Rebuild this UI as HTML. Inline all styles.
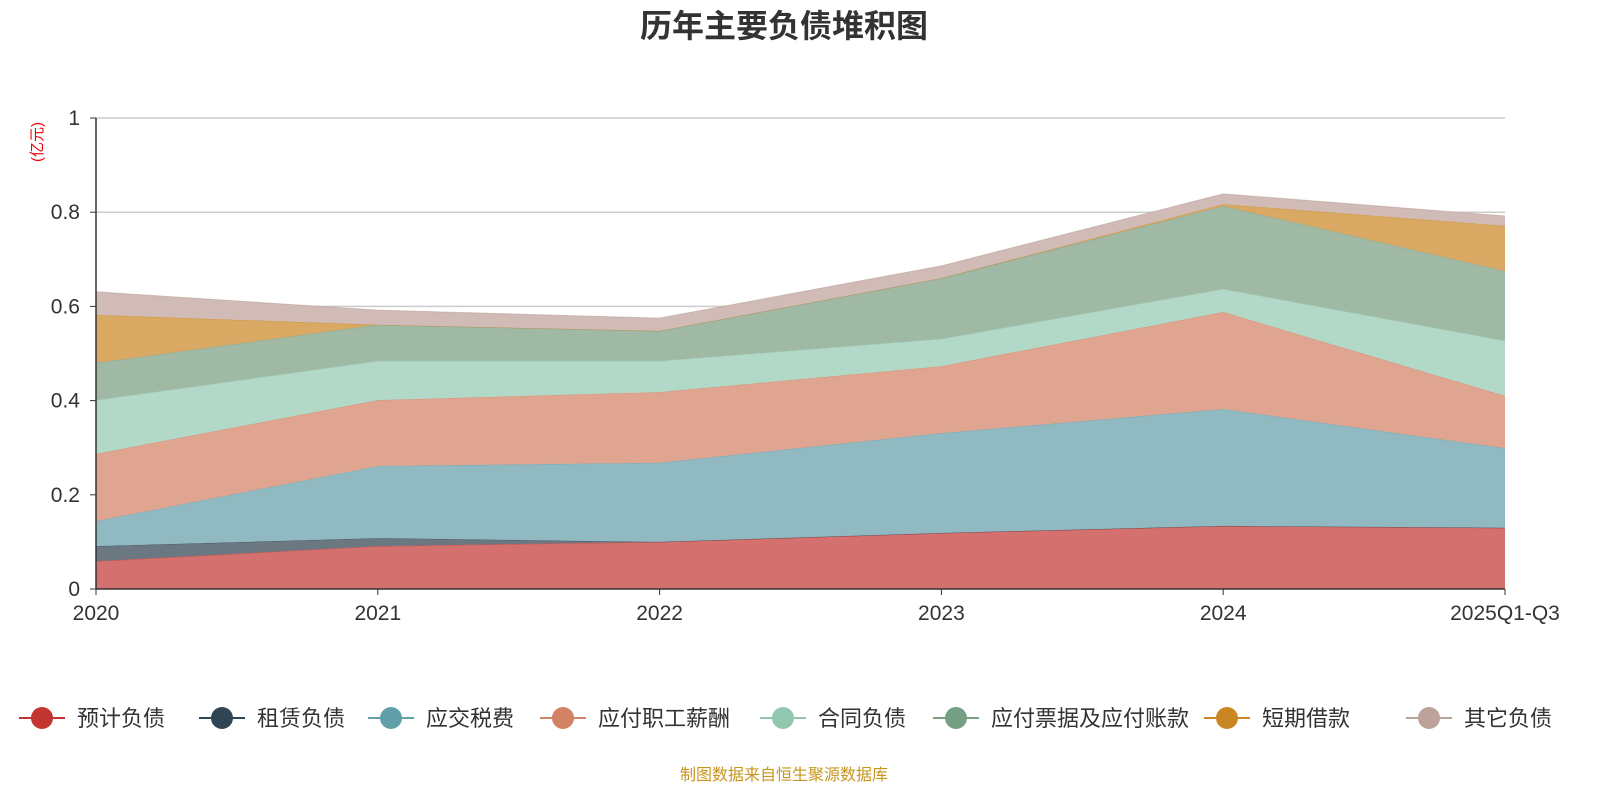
<!DOCTYPE html>
<html><head><meta charset="utf-8"><style>
body{margin:0;background:#fff;}
svg text{font-family:"Liberation Sans","Noto Sans CJK SC",sans-serif;}
</style></head><body>
<svg id="chart" width="1600" height="800" xmlns="http://www.w3.org/2000/svg">
<text x="784" y="37" text-anchor="middle" font-size="32" font-weight="bold" fill="#333">历年主要负债堆积图</text>
<text transform="translate(42,142) rotate(-90)" text-anchor="middle" font-size="15" fill="#e00">(亿元)</text>
<g id="grid"></g><g id="areas"></g><g id="axes"></g><g id="legend"></g>
<text x="784" y="780" text-anchor="middle" font-size="16" fill="#c8961e">制图数据来自恒生聚源数据库</text>
</svg>
<script>
const categories=["2020","2021","2022","2023","2024","2025Q1-Q3"];
const seriesNames=["预计负债","租赁负债","应交税费","应付职工薪酬","合同负债","应付票据及应付账款","短期借款","其它负债"];
const s0=[0.059,0.091,0.100,0.119,0.134,0.130];
const s1=[0.032,0.017,0,0,0,0];
const s2=[0.053,0.153,0.168,0.212,0.248,0.169];
const s3=[0.143,0.140,0.150,0.142,0.206,0.111];
const s4=[0.114,0.083,0.066,0.058,0.049,0.117];
const s5=[0.079,0.077,0.064,0.129,0.176,0.148];
const s6=[0.102,0,0,0,0.004,0.096];
const s7=[0.049,0.031,0.027,0.026,0.022,0.021];
const yTicks=[0,0.2,0.4,0.6,0.8,1];
const series=[s0,s1,s2,s3,s4,s5,s6,s7];
const fills=["#d4706d","#6b7882","#91b9c1","#e0a590","#b2d8c8","#9fb9a5","#d9a862","#d0bbb6"];
const lines=["#c23531","#2f4554","#61a0a8","#d48265","#91c7ae","#749f83","#ca8622","#bda29a"];
const NS="http://www.w3.org/2000/svg";
const X0=96,X1=1505,Y0=589,Y1=118;
const xs=i=>X0+(X1-X0)*i/(categories.length-1);
const ys=v=>Y0-(Y0-Y1)*v;
function mk(t,a,p){const e=document.createElementNS(NS,t);for(const k in a)e.setAttribute(k,a[k]);p.appendChild(e);return e;}
const grid=document.getElementById('grid'),axes=document.getElementById('axes'),areas=document.getElementById('areas'),legend=document.getElementById('legend');
yTicks.forEach(t=>{
 if(t>0){const l=mk('line',{x1:X0,x2:X1,y1:ys(t),y2:ys(t),stroke:'#ccc','stroke-width':1.5},grid);
 
 }
 mk('line',{x1:X0-6,x2:X0,y1:ys(t),y2:ys(t),stroke:'#333'},axes);
 const tx=mk('text',{x:X0-16,y:ys(t)+7,'text-anchor':'end','font-size':21,fill:'#333'},axes);tx.textContent=t;
 
 
});
let base=categories.map(()=>0);
series.forEach((s,k)=>{
 const top=base.map((b,i)=>b+s[i]);
 let d='M'+top.map((v,i)=>xs(i)+','+ys(v)).join('L');
 for(let i=base.length-1;i>=0;i--)d+='L'+xs(i)+','+ys(base[i]);
 const p=mk('path',{d:d+'Z',fill:fills[k]},areas);
 
 
 mk('polyline',{points:top.map((v,i)=>xs(i)+','+ys(v)).join(' '),fill:'none',stroke:lines[k],'stroke-width':1,opacity:0.6},areas);
 base=top;
});
mk('line',{x1:X0,x2:X0,y1:Y1,y2:Y0,stroke:'#333','stroke-width':1.5},axes);
mk('line',{x1:X0,x2:X1,y1:Y0,y2:Y0,stroke:'#333','stroke-width':1.5},axes);
categories.forEach((c,i)=>{
 mk('line',{x1:xs(i),x2:xs(i),y1:Y0,y2:Y0+6,stroke:'#333'},axes);
 const tx=mk('text',{x:xs(i),y:620,'text-anchor':'middle','font-size':21,fill:'#333'},axes);tx.textContent=c;
 
 
});
const lx=[42,222,391,563,783,956,1227,1429];
seriesNames.forEach((n,k)=>{
 const g=mk('g',{},legend);
 
 
 mk('line',{x1:lx[k]-23,x2:lx[k]+23,y1:718,y2:718,stroke:lines[k],'stroke-width':2},g);
 mk('circle',{cx:lx[k],cy:718,r:11,fill:lines[k]},g);
 const t=mk('text',{x:lx[k]+35,y:726,'font-size':22,fill:'#333'},g);t.textContent=n;
});
</script>
</body></html>
